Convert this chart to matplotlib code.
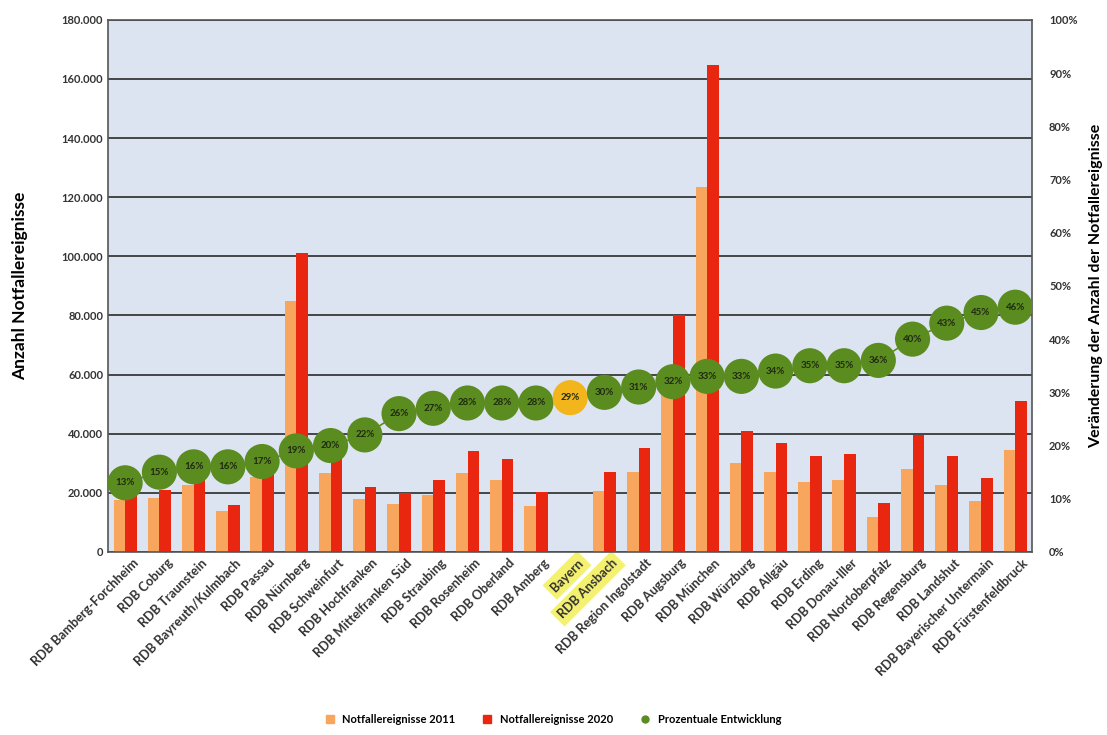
import numpy as np
import matplotlib.pyplot as plt
from matplotlib.ticker import FuncFormatter, PercentFormatter
from matplotlib.lines import Line2D
from matplotlib.patches import Patch

plt.rcParams['font.family'] = ['Lato', 'DejaVu Sans']

regions = ['RDB Bamberg-Forchheim', 'RDB Coburg', 'RDB Traunstein', 'RDB Bayreuth/Kulmbach',
           'RDB Passau', 'RDB Nürnberg', 'RDB Schweinfurt', 'RDB Hochfranken',
           'RDB Mittelfranken Süd', 'RDB Straubing', 'RDB Rosenheim', 'RDB Oberland',
           'RDB Amberg', 'Bayern', 'RDB Ansbach', 'RDB Region Ingolstadt', 'RDB Augsburg',
           'RDB München', 'RDB Würzburg', 'RDB Allgäu', 'RDB Erding', 'RDB Donau-Iller',
           'RDB Nordoberpfalz', 'RDB Regensburg', 'RDB Landshut',
           'RDB Bayerischer Untermain', 'RDB Fürstenfeldbruck']

# Bayern has no bars in the chart
events_2011 = [17500, 18200, 22500, 13800, 25500, 84900, 26600, 17800,
               16300, 19400, 26600, 24200, 15700, np.nan, 20700, 27000, 60500,
               123600, 30100, 27000, 23800, 24500, 11900, 28200, 22600, 17200, 34400]
events_2020 = [19800, 21000, 26000, 15900, 29800, 101200, 32000, 22000,
               20100, 24500, 34100, 31400, 20300, np.nan, 27000, 35100, 80000,
               164600, 40800, 36800, 32400, 33200, 16600, 39500, 32400, 25100, 51000]
change_pct = [13, 15, 16, 16, 17, 19, 20, 22, 26, 27, 28, 28, 28, 29, 30, 31, 32,
              33, 33, 34, 35, 35, 36, 40, 43, 45, 46]
highlight = 'Bayern'
marked_labels = ['Bayern', 'RDB Ansbach']

c2011 = '#f8a55e'
c2020 = '#e9260f'
cgreen = '#5b8c20'
cyellow = '#f3b51c'

fig = plt.figure(figsize=(11.07, 7.35), dpi=100)
ax = fig.add_axes([0.0976, 0.249, 0.835, 0.724])
ax.set_facecolor('#dde4f1')

x = np.arange(len(regions))
w = 0.34
ax.bar(x - w / 2, events_2011, w, color=c2011, zorder=2)
ax.bar(x + w / 2, events_2020, w, color=c2020, zorder=2)

ax.set_xlim(-0.5, len(regions) - 0.5)
ax.set_ylim(0, 180000)
ax.set_yticks(np.arange(0, 180001, 20000))
ax.yaxis.set_major_formatter(FuncFormatter(lambda v, p: f'{int(v):,}'.replace(',', '.')))
ax.grid(axis='y', color='#2a2a2a', lw=1.2, zorder=1)
ax.set_axisbelow(True)
ax.tick_params(axis='both', length=0, labelsize=8, labelcolor='#333333')
for lab in ax.get_yticklabels():
    lab.set_fontweight('bold')
ax.set_xticks(x + 0.2)
ax.set_xticklabels(regions, rotation=45, ha='right', rotation_mode='anchor',
                   fontsize=9.2, fontweight='bold', color='#333333')
for lab in ax.get_xticklabels():
    if lab.get_text() in marked_labels:
        # hand-drawn yellow marker in the scan
        lab.set_bbox(dict(facecolor='#f4f060', edgecolor='none', pad=3, alpha=0.9))
ax.set_ylabel('Anzahl Notfallereignisse', fontsize=12.5, fontweight='bold', labelpad=24)
for s in ax.spines.values():
    s.set_color('#555555')
    s.set_linewidth(1.2)

ax2 = ax.twinx()
ax2.set_ylim(0, 100)
ax2.set_yticks(np.arange(0, 101, 10))
ax2.yaxis.set_major_formatter(PercentFormatter(decimals=0))
ax2.tick_params(axis='y', length=0, labelsize=8, labelcolor='#333333', pad=12)
for lab in ax2.get_yticklabels():
    lab.set_fontweight('bold')
ax2.set_ylabel('Veränderung der Anzahl der Notfallereignisse', fontsize=11.5,
               fontweight='bold', labelpad=8)
for s in ax2.spines.values():
    s.set_visible(False)

ax2.plot(x, change_pct, color=cgreen, lw=1.2, zorder=3)
colors = [cyellow if r == highlight else cgreen for r in regions]
ax2.scatter(x, change_pct, s=640, c=colors, zorder=4, linewidths=0)
for xi, p in zip(x, change_pct):
    ax2.text(xi, p, f'{p}%', ha='center', va='center', fontsize=7,
             fontweight='bold', color='#1f2a10', zorder=5)

handles = [Patch(color=c2011), Patch(color=c2020),
           Line2D([], [], ls='none', marker='o', color=cgreen, markersize=5)]
fig.legend(handles, ['Notfallereignisse 2011', 'Notfallereignisse 2020', 'Prozentuale Entwicklung'],
           loc='lower center', bbox_to_anchor=(0.5, 0.0), ncol=3, frameon=False,
           handlelength=0.7, handleheight=0.7, columnspacing=2.5,
           prop={'weight': 'bold', 'size': 8})

fig.savefig('out.png', dpi=100)
